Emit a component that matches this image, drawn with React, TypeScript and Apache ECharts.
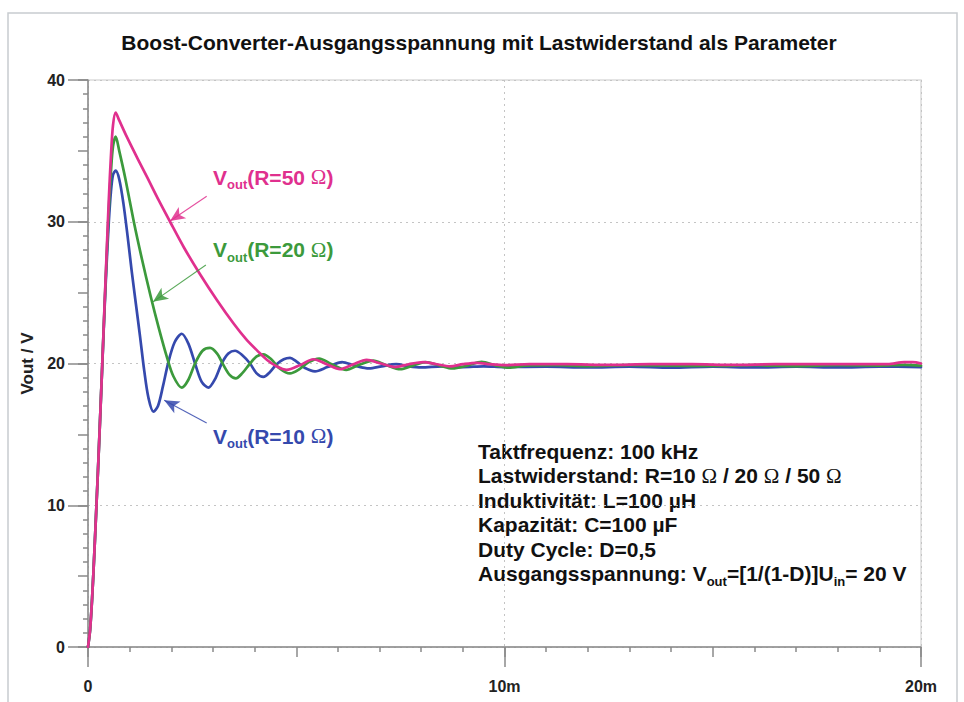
import React, { useEffect, useRef } from "react";
import * as echarts from "echarts";

// ---- data (time in ms, voltage in V) ----
const t50 = [0, 0.05, 0.1, 0.15, 0.2, 0.25, 0.3, 0.35, 0.4, 0.45, 0.5, 0.55, 0.6, 0.665, 0.75, 0.93, 1.2, 1.41, 1.7, 1.97, 2.3, 2.69, 3.09, 3.5, 3.8, 4.1, 4.3, 4.5, 4.77, 5.1, 5.41, 5.73, 6.05, 6.37, 6.69, 7.03, 7.37, 7.7, 8.05, 8.37, 8.69, 9.0, 9.33, 9.65, 10.0, 10.6, 11.5, 12.5, 13.5, 14.5, 15.5, 16.5, 17.5, 18.5, 19.2, 19.6, 19.8, 20];
const v50 = [0, 1.2, 3.5, 6.5, 9.8, 13.2, 16.8, 20.5, 24.3, 28.0, 31.6, 34.6, 36.8, 37.7, 37.15, 36.0, 34.4, 33.2, 31.5, 30.0, 28.2, 26.3, 24.5, 22.8, 21.7, 20.8, 20.25, 19.85, 19.55, 19.9, 20.3, 19.95, 19.6, 19.95, 20.25, 20.0, 19.75, 19.95, 20.1, 19.95, 19.8, 19.95, 20.05, 19.95, 19.88, 19.95, 19.95, 19.9, 19.95, 19.95, 19.9, 19.95, 19.95, 19.95, 19.95, 20.1, 20.1, 20.0];

const t20 = [0, 0.05, 0.1, 0.15, 0.2, 0.25, 0.3, 0.35, 0.4, 0.45, 0.5, 0.55, 0.6, 0.665, 0.75, 0.9, 1.1, 1.3, 1.5, 1.7, 1.9, 2.05, 2.25, 2.4, 2.57, 2.75, 2.93, 3.1, 3.25, 3.4, 3.55, 3.7, 3.89, 4.05, 4.21, 4.4, 4.6, 4.85, 5.05, 5.3, 5.55, 5.85, 6.2, 6.5, 6.85, 7.15, 7.5, 7.8, 8.1, 8.45, 8.75, 9.1, 9.45, 9.8, 10.1, 10.5, 11.2, 12, 13, 14, 15, 16, 17, 18, 19, 19.6, 20];
const v20 = [0, 1.2, 3.5, 6.5, 9.8, 13.2, 16.8, 20.5, 24.2, 27.7, 30.9, 33.5, 35.3, 36.0, 35.0, 33.0, 30.0, 27.3, 24.8, 22.5, 20.4, 19.1, 18.3, 18.8, 20.0, 20.9, 21.1, 20.7, 19.9, 19.2, 18.95, 19.3, 20.0, 20.5, 20.65, 20.3, 19.65, 19.3, 19.55, 20.1, 20.35, 19.95, 19.55, 19.9, 20.2, 19.9, 19.6, 19.85, 20.1, 19.85, 19.65, 19.85, 20.12, 19.85, 19.7, 19.85, 19.88, 19.82, 19.88, 19.85, 19.83, 19.88, 19.82, 19.88, 19.85, 19.9, 19.85];

const t10 = [0, 0.05, 0.1, 0.15, 0.2, 0.25, 0.3, 0.35, 0.4, 0.45, 0.5, 0.55, 0.6, 0.665, 0.75, 0.85, 0.95, 1.05, 1.15, 1.25, 1.35, 1.45, 1.57, 1.68, 1.8, 1.93, 2.08, 2.25, 2.41, 2.57, 2.73, 2.89, 3.05, 3.21, 3.37, 3.53, 3.7, 3.89, 4.05, 4.21, 4.37, 4.53, 4.7, 4.85, 5.0, 5.2, 5.45, 5.75, 6.1, 6.4, 6.75, 7.05, 7.4, 7.7, 8.0, 8.5, 9.0, 9.5, 10, 11, 12, 13, 14, 15, 16, 17, 18, 19, 20];
const v10 = [0, 1.2, 3.5, 6.5, 9.8, 13.2, 16.8, 20.4, 24.0, 27.2, 30.0, 32.1, 33.3, 33.6, 33.0, 31.3, 29.0, 26.5, 24.2, 21.9, 19.5, 17.6, 16.6, 17.0, 18.4, 20.1, 21.5, 22.1, 21.4, 20.0, 18.7, 18.3, 18.9, 20.0, 20.7, 20.9, 20.6, 20.0, 19.3, 19.05, 19.4, 19.95, 20.3, 20.4, 20.15, 19.7, 19.45, 19.75, 20.1, 19.85, 19.65, 19.8, 19.95, 19.8, 19.72, 19.8, 19.75, 19.8, 19.75, 19.78, 19.72, 19.78, 19.7, 19.78, 19.72, 19.78, 19.72, 19.78, 19.75];

// arrows: [tailTime, tailV, tipTime, tipV]
const arrow50 = [2.85, 31.8, 1.97, 30.05];
const arrow20 = [2.83, 26.95, 1.56, 24.35];
const arrow10 = [2.85, 15.8, 1.83, 17.4];

const xTicksMajor = [0, 10, 20];
const TITLE = "Boost-Converter-Ausgangsspannung mit Lastwiderstand als Parameter";
const INFO_LINES = [
  "{m|Taktfrequenz: 100 kHz}",
  "{m|Lastwiderstand: R=10 }{o|Ω}{m| / 20 }{o|Ω}{m| / 50 }{o|Ω}",
  "{m|Induktivität: L=100 µH}",
  "{m|Kapazität: C=100 µF}",
  "{m|Duty Cycle: D=0,5}",
  "{m|Ausgangsspannung: V}{s|out}{m|=[1/(1-D)]U}{s|in}{m|= 20 V}",
];

const PINK = "#e0308e";
const GREEN = "#3c9a3c";
const BLUE = "#3549ad";
const FONT = "'Liberation Sans', Arial, sans-serif";

function pairs(t: number[], v: number[]) {
  return t.map((x, i) => [x, v[i]]);
}

function richFor(color: string) {
  return {
    m: { fontSize: 21, fontWeight: "bold", fontFamily: FONT, fill: color, lineHeight: 28 },
    s: { fontSize: 13, fontWeight: "bold", fontFamily: FONT, fill: color, lineHeight: 12, verticalAlign: "bottom" },
    o: { fontSize: 21, fontWeight: "normal", fontFamily: "'Liberation Serif', serif", fill: color, lineHeight: 28 },
  };
}

function arrowMark(a: number[], color: string) {
  return {
    silent: true,
    symbol: ["none", "arrow"],
    symbolSize: [10, 15],
    label: { show: false },
    lineStyle: { color, width: 1.1, type: "solid", opacity: 0.85 },
    data: [[{ coord: [a[0], a[1]] }, { coord: [a[2], a[3]] }]],
  };
}

export default function App() {
  const ref = useRef<HTMLDivElement>(null);
  useEffect(() => {
    if (!ref.current) return;
    const chart = echarts.init(ref.current, null, { renderer: "svg" });
    const axisGray = "#8a8a8a";
    const labelStyle = { color: "#222", fontWeight: "bold", fontSize: 16, fontFamily: FONT };
    const curveLabel = (txt: string, y: number, color: string) => ({
      type: "text",
      x: 213,
      y,
      style: { text: txt, rich: richFor(color), align: "left", verticalAlign: "middle" },
    });
    const lineSeries = (name: string, t: number[], v: number[], color: string, arrow: number[]) => ({
      name, type: "line", xAxisIndex: 0, yAxisIndex: 0, data: pairs(t, v),
      showSymbol: false, symbol: "none", smooth: 0.3,
      lineStyle: { color, width: 2.7, join: "round", cap: "round" },
      markLine: arrowMark(arrow, color),
    });
    chart.setOption({
      animation: false,
      backgroundColor: "#fff",
      grid: { left: 88, right: 43, top: 80, bottom: 55, show: true, borderColor: "#dcdcdc", borderWidth: 1.5 },
      xAxis: [
        {
          type: "value", position: "bottom", min: 0, max: 20, interval: 10,
          axisLine: { show: true, lineStyle: { color: axisGray, width: 1.5 } },
          axisTick: { show: true, length: 20, lineStyle: { color: axisGray, width: 1.5 } },
          axisLabel: { ...labelStyle, margin: 31, formatter: (v: number) => (xTicksMajor.includes(v) && v !== 0 ? v + "m" : "0") },
          splitLine: { show: true, lineStyle: { color: "#c4c4c4", width: 1, type: [2, 4] } },
        },
        {
          type: "value", position: "bottom", min: 0, max: 20, interval: 5,
          axisLine: { show: false },
          axisTick: { show: true, length: 10, lineStyle: { color: axisGray, width: 1.5 } },
          minorTick: { show: true, splitNumber: 5, length: 5, lineStyle: { color: axisGray, width: 1.5 } },
          axisLabel: { show: false },
          splitLine: { show: false },
        },
      ],
      yAxis: [
        {
          type: "value", position: "left", min: 0, max: 40, interval: 10,
          name: "Vout / V", nameLocation: "middle", nameGap: 52, nameRotate: 90,
          nameTextStyle: { color: "#222", fontWeight: "bold", fontSize: 17, fontFamily: FONT },
          axisLine: { show: true, lineStyle: { color: axisGray, width: 1.5 } },
          axisTick: { show: true, length: 20, lineStyle: { color: axisGray, width: 1.5 } },
          axisLabel: { ...labelStyle, margin: 23 },
          splitLine: { show: true, lineStyle: { color: "#c4c4c4", width: 1, type: [2, 4] } },
        },
        {
          type: "value", position: "left", min: 0, max: 40, interval: 5,
          axisLine: { show: false },
          axisTick: { show: true, length: 10, lineStyle: { color: axisGray, width: 1.5 } },
          minorTick: { show: true, splitNumber: 5, length: 5, lineStyle: { color: axisGray, width: 1.5 } },
          axisLabel: { show: false },
          splitLine: { show: false },
        },
      ],
      series: [
        lineSeries("R=10", t10, v10, BLUE, arrow10),
        lineSeries("R=20", t20, v20, GREEN, arrow20),
        lineSeries("R=50", t50, v50, PINK, arrow50),
      ],
      graphic: [
        { type: "rect", shape: { x: 8, y: 13, width: 949, height: 720 }, style: { fill: "none", stroke: "#c8ccd0", lineWidth: 1.5 }, silent: true },
        {
          type: "text", x: 479, y: 42,
          style: { text: TITLE, fontSize: 21, fontWeight: "bold", fontFamily: FONT, fill: "#111", align: "center", verticalAlign: "middle" },
        },
        curveLabel("{m|V}{s|out}{m|(R=50 }{o|Ω}{m|)}", 177, PINK),
        curveLabel("{m|V}{s|out}{m|(R=20 }{o|Ω}{m|)}", 249.5, GREEN),
        curveLabel("{m|V}{s|out}{m|(R=10 }{o|Ω}{m|)}", 436, BLUE),
        ...INFO_LINES.map((txt, i) => ({
          type: "text", x: 478, y: 451 + i * 24.5,
          style: { text: txt, rich: richFor("#111"), align: "left", verticalAlign: "middle" },
        })),
      ],
    });
    return () => chart.dispose();
  }, []);
  return <div ref={ref} style={{ position: "fixed", left: 0, top: 0, width: 964, height: 702, background: "#fff" }} />;
}
